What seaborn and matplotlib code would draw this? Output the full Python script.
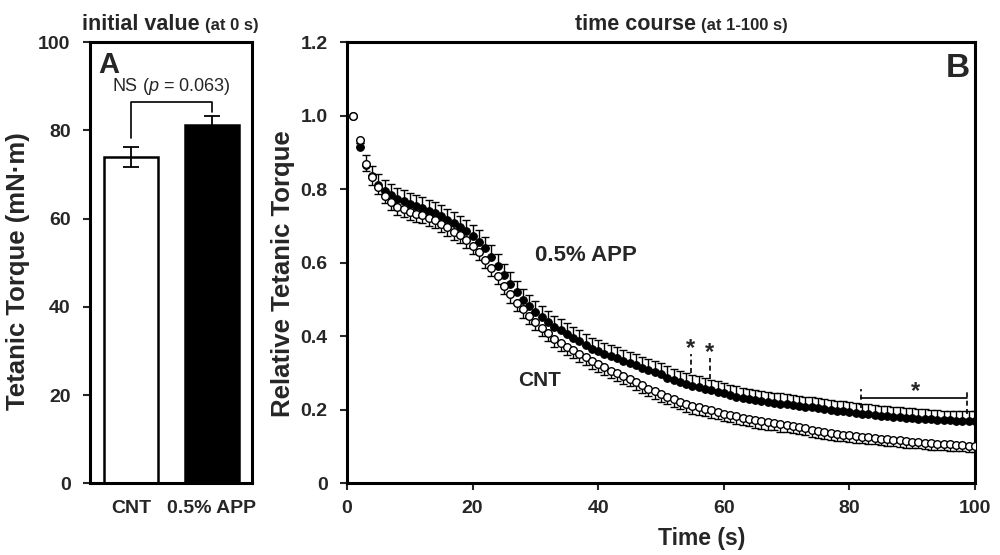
import numpy as np
import pandas as pd
import matplotlib
matplotlib.use('Agg')
import matplotlib.pyplot as plt
import seaborn as sns

sns.set_style('ticks')
plt.rcParams['font.family'] = ['Liberation Sans', 'DejaVu Sans']
plt.rcParams['font.weight'] = 'bold'
plt.rcParams['mathtext.fontset'] = 'custom'
plt.rcParams['mathtext.rm'] = 'Liberation Sans:normal'
plt.rcParams['mathtext.it'] = 'Liberation Sans:italic:normal'

# Panel A: initial tetanic torque (mean, SEM)
groups = ['CNT', '0.5% APP']
initial_mean = [74.0, 81.2]
initial_sem = [2.2, 2.0]

# Panel B: relative tetanic torque, 1-100 s
time_s = list(range(1, 101))
cnt_rel = [1.000, 0.935, 0.868, 0.832, 0.806, 0.783, 0.764, 0.752, 0.745, 0.738,
           0.734, 0.729, 0.722, 0.716, 0.706, 0.696, 0.685, 0.675, 0.662, 0.647,
           0.630, 0.608, 0.586, 0.563, 0.538, 0.514, 0.492, 0.473, 0.455, 0.439,
           0.423, 0.408, 0.394, 0.383, 0.371, 0.362, 0.353, 0.345, 0.334, 0.325,
           0.316, 0.307, 0.299, 0.292, 0.285, 0.276, 0.267, 0.258, 0.250, 0.243,
           0.236, 0.229, 0.222, 0.216, 0.211, 0.207, 0.203, 0.199, 0.194, 0.190,
           0.186, 0.182, 0.178, 0.175, 0.172, 0.169, 0.166, 0.164, 0.161, 0.159,
           0.156, 0.153, 0.150, 0.146, 0.143, 0.140, 0.137, 0.135, 0.133, 0.131,
           0.129, 0.127, 0.125, 0.124, 0.122, 0.120, 0.119, 0.117, 0.115, 0.113,
           0.112, 0.111, 0.109, 0.108, 0.107, 0.106, 0.105, 0.104, 0.103, 0.102]
app_rel = [1.000, 0.915, 0.866, 0.835, 0.812, 0.795, 0.785, 0.774, 0.767, 0.760,
           0.754, 0.748, 0.742, 0.735, 0.726, 0.716, 0.707, 0.697, 0.687, 0.673,
           0.657, 0.640, 0.617, 0.592, 0.566, 0.543, 0.520, 0.498, 0.482, 0.467,
           0.453, 0.439, 0.426, 0.416, 0.405, 0.396, 0.386, 0.377, 0.366, 0.359,
           0.352, 0.346, 0.340, 0.333, 0.327, 0.321, 0.314, 0.309, 0.303, 0.297,
           0.288, 0.282, 0.276, 0.271, 0.266, 0.262, 0.257, 0.253, 0.249, 0.245,
           0.240, 0.236, 0.232, 0.229, 0.226, 0.223, 0.221, 0.219, 0.217, 0.215,
           0.213, 0.211, 0.209, 0.207, 0.205, 0.203, 0.200, 0.198, 0.196, 0.194,
           0.192, 0.190, 0.188, 0.186, 0.184, 0.183, 0.181, 0.180, 0.178, 0.177,
           0.176, 0.175, 0.174, 0.173, 0.172, 0.172, 0.171, 0.171, 0.170, 0.170]
cnt_sem = [0.000, 0.010, 0.018, 0.020, 0.020, 0.021, 0.021, 0.021, 0.021, 0.021,
           0.022, 0.022, 0.022, 0.022, 0.022, 0.022, 0.022, 0.022, 0.022, 0.022,
           0.022, 0.022, 0.022, 0.022, 0.022, 0.022, 0.022, 0.022, 0.022, 0.022,
           0.022, 0.022, 0.022, 0.022, 0.022, 0.022, 0.022, 0.022, 0.022, 0.022,
           0.021, 0.021, 0.021, 0.021, 0.021, 0.021, 0.021, 0.021, 0.021, 0.021,
           0.021, 0.021, 0.021, 0.021, 0.021, 0.020, 0.020, 0.020, 0.020, 0.020,
           0.020, 0.020, 0.020, 0.020, 0.020, 0.020, 0.020, 0.020, 0.020, 0.020,
           0.019, 0.019, 0.019, 0.019, 0.019, 0.019, 0.019, 0.019, 0.019, 0.019,
           0.018, 0.018, 0.018, 0.018, 0.018, 0.018, 0.018, 0.018, 0.018, 0.018,
           0.017, 0.017, 0.017, 0.017, 0.017, 0.017, 0.017, 0.017, 0.017, 0.017]
app_sem = [0.000, 0.012, 0.026, 0.028, 0.029, 0.030, 0.030, 0.030, 0.030, 0.030,
           0.030, 0.030, 0.030, 0.030, 0.030, 0.030, 0.030, 0.030, 0.030, 0.030,
           0.031, 0.031, 0.031, 0.031, 0.031, 0.031, 0.031, 0.030, 0.030, 0.030,
           0.030, 0.030, 0.030, 0.030, 0.030, 0.030, 0.030, 0.030, 0.030, 0.030,
           0.030, 0.030, 0.030, 0.030, 0.030, 0.030, 0.030, 0.030, 0.030, 0.030,
           0.030, 0.030, 0.030, 0.030, 0.030, 0.029, 0.029, 0.029, 0.029, 0.029,
           0.028, 0.028, 0.028, 0.028, 0.028, 0.028, 0.028, 0.028, 0.028, 0.028,
           0.027, 0.027, 0.027, 0.027, 0.027, 0.027, 0.027, 0.027, 0.027, 0.027,
           0.027, 0.027, 0.027, 0.027, 0.027, 0.027, 0.027, 0.027, 0.027, 0.027,
           0.026, 0.026, 0.026, 0.026, 0.026, 0.026, 0.026, 0.026, 0.026, 0.026]

fig = plt.figure(figsize=(10, 5.55), dpi=100)
axA = fig.add_axes([0.090, 0.129, 0.162, 0.795])
axB = fig.add_axes([0.347, 0.129, 0.628, 0.795])

# ---- Panel A ----
df_a = pd.DataFrame({'group': groups, 'torque': initial_mean})
sns.barplot(data=df_a, x='group', y='torque', hue='group', palette=['white', 'black'],
            saturation=1, edgecolor='black', linewidth=1.8, width=0.67,
            errorbar=None, legend=False, ax=axA)
axA.errorbar([0, 1], initial_mean, yerr=initial_sem, fmt='none', ecolor='black',
             elinewidth=1.3, capsize=6, capthick=1.3)
axA.set_xlim(-0.51, 1.5)
axA.set_ylim(0, 100)
axA.set_yticks(range(0, 101, 20))
axA.set_xlabel('')
axA.set_ylabel('Tetanic Torque (mN·m)', fontsize=18.5, fontweight='bold')
axA.yaxis.set_label_coords(-0.37, 0.48)
axA.tick_params(axis='y', direction='out', length=5, width=1.5, labelsize=14, pad=9)
axA.tick_params(axis='x', length=0, labelsize=14, pad=12)

# significance bracket
axA.plot([0, 0, 1, 1], [78.3, 86.5, 86.5, 84.2], color='black', lw=1.2)
axA.text(0.5, 89.9, r'NS ($\mathit{p}$ = 0.063)', ha='center', va='center',
         fontsize=13, fontweight='normal')
axA.text(0.05, 0.98, 'A', transform=axA.transAxes, ha='left', va='top',
         fontsize=21, fontweight='bold')

# ---- Panel B ----
axB.errorbar(time_s, app_rel, yerr=[np.zeros(len(app_sem)), app_sem], fmt='none',
             ecolor='black', elinewidth=1.0, capsize=3, capthick=1.0, zorder=2)
axB.errorbar(time_s, cnt_rel, yerr=[cnt_sem, np.zeros(len(cnt_sem))], fmt='none',
             ecolor='black', elinewidth=1.0, capsize=3, capthick=1.0, zorder=2)
sns.scatterplot(x=time_s, y=app_rel, color='black', edgecolor='black', s=30,
                linewidth=0.8, ax=axB, zorder=3)
sns.scatterplot(x=time_s, y=cnt_rel, color='white', edgecolor='black', s=30,
                linewidth=1.0, ax=axB, zorder=4)

axB.set_xlim(0, 100)
axB.set_ylim(0, 1.2)
axB.set_xticks(range(0, 101, 20))
axB.set_yticks([0, 0.2, 0.4, 0.6, 0.8, 1.0, 1.2])
axB.set_yticklabels(['0', '0.2', '0.4', '0.6', '0.8', '1.0', '1.2'])
axB.set_xlabel('Time (s)', fontsize=16.5, fontweight='bold')
axB.xaxis.set_label_coords(0.565, -0.098)
axB.set_ylabel('Relative Tetanic Torque', fontsize=18.5, fontweight='bold')
axB.yaxis.set_label_coords(-0.083, 0.476)
axB.tick_params(axis='y', direction='out', length=5, width=1.5, labelsize=14, pad=9)
axB.tick_params(axis='x', direction='out', length=5, width=1.5, labelsize=14, pad=7)

axB.text(29.9, 0.62, '0.5% APP', ha='left', va='center', fontsize=16, fontweight='bold')
axB.text(30.7, 0.28, 'CNT', ha='center', va='center', fontsize=15, fontweight='bold')
axB.text(0.992, 0.975, 'B', transform=axB.transAxes, ha='right', va='top',
         fontsize=24, fontweight='bold')

# significance marks
for tx, top, bottom in [(54.7, 0.353, 0.299), (57.8, 0.342, 0.285)]:
    axB.plot([tx, tx], [bottom, top], color='black', lw=1.2, ls=(0, (3, 2)))
    axB.text(tx, top - 0.018, '*', ha='center', va='bottom', fontsize=17, fontweight='bold')
axB.plot([81.8, 98.8], [0.231, 0.231], color='black', lw=1.2)
axB.plot([81.8, 81.8], [0.204, 0.256], color='black', lw=1.2, ls=(0, (3, 2)))
axB.plot([98.8, 98.8], [0.190, 0.256], color='black', lw=1.2, ls=(0, (3, 2)))
axB.text(90.5, 0.219, '*', ha='center', va='bottom', fontsize=17, fontweight='bold')

for ax in (axA, axB):
    for sp in ax.spines.values():
        sp.set_visible(True)
        sp.set_linewidth(2.2)
        sp.set_color('black')

# titles: main part followed by a smaller note
renderer = fig.canvas.get_renderer()
for x0, main, note in [(0.082, 'initial value', '(at 0 s)'),
                       (0.575, 'time course', '(at 1-100 s)')]:
    t = fig.text(x0, 0.946, main, fontsize=15.5, fontweight='bold', va='baseline')
    bb = t.get_window_extent(renderer).transformed(fig.transFigure.inverted())
    fig.text(bb.x1 + 0.005, 0.946, note, fontsize=12, fontweight='bold', va='baseline')

fig.savefig('out.png', dpi=100)
